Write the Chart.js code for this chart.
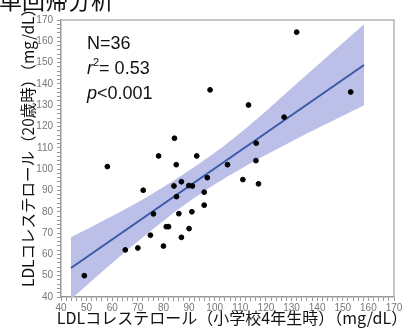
<!DOCTYPE html>
<html>
<head>
<meta charset="utf-8">
<script src="https://cdn.jsdelivr.net/npm/chart.js@4/dist/chart.umd.min.js"></script>
<style>
  body { margin: 0; background: #fff; }
  #wrap { position: relative; width: 407px; height: 336px; overflow: hidden; }
  #head { position: absolute; left: -1px; top: -12px; font: 23px "Noto Sans CJK JP"; color: #111; white-space: nowrap; line-height: 23px; }
</style>
</head>
<body>
<div id="wrap">
  <canvas id="myChart"></canvas>
  <div id="head">単回帰分析</div>
</div>
<script>
// 散布図のデータ（小学校4年生時, 20歳時）
const xValues = [98.2, 84.3, 132.0, 113.2, 153.1, 127.1, 116.2, 78.1, 93.0, 58.1,
                 85.0, 105.0, 97.1, 87.0, 84.1, 89.9, 91.3, 72.1, 95.9, 85.1,
                 95.9, 76.1, 86.0, 91.1, 81.1, 82.0, 90.0, 74.9, 87.0, 65.1,
                 70.0, 80.0, 49.1, 116.1, 111.0, 117.1];
const yValues = [137.2, 114.5, 164.3, 130.1, 136.2, 124.4, 112.2, 106.2, 106.2, 101.2,
                 102.1, 102.1, 96.0, 94.1, 92.1, 92.3, 92.1, 90.1, 89.2, 87.1,
                 83.1, 79.0, 79.1, 80.0, 73.0, 73.0, 72.1, 69.0, 68.0, 62.1,
                 63.0, 63.9, 50.0, 104.0, 95.1, 93.1];

// 回帰直線（両端）
const fitX = [43.9, 158.3];
const fitY = [53.6, 148.9];

// 95%信頼区間
const bandX = [43.9, 60, 75, 92, 110, 130, 158.3];
const bandUpper = [68, 78, 88, 101, 117, 138, 168];
const bandLower = [39, 56, 71, 86.5, 100, 113, 130];

// 統計値と軸タイトル
const statLines = ['N=36', '= 0.53', '<0.001'];
const xTitle = 'LDLコレステロール（小学校4年生時）（mg/dL）';
const yTitle = 'LDLコレステロール（20歳時）（mg/dL）';

const toPoints = (xs, ys) => xs.map((x, i) => ({ x: x, y: ys[i] }));

// プロット枠、軸タイトル、統計値のテキストを描く
const framePlugin = {
    id: 'frame',
    afterDraw(chart) {
        const { ctx, chartArea: a } = chart;
        ctx.save();
        ctx.strokeStyle = '#b5b5b5';
        ctx.lineWidth = 1.5;
        ctx.beginPath();
        ctx.moveTo(a.left, a.top);
        ctx.lineTo(a.right, a.top);
        ctx.lineTo(a.right, a.bottom);
        ctx.stroke();

        ctx.fillStyle = '#111';
        ctx.textBaseline = 'middle';

        // 軸タイトル
        ctx.textAlign = 'center';
        ctx.font = '16px "Noto Sans CJK JP"';
        ctx.fillText(xTitle, 232, 318);
        ctx.save();
        ctx.translate(28, 144);
        ctx.rotate(-Math.PI / 2);
        ctx.font = '15.5px "Noto Sans CJK JP"';
        ctx.fillText(yTitle, 0, 0);
        ctx.restore();

        // 統計値
        ctx.textAlign = 'left';
        const x0 = a.left + 26;
        ctx.font = '18px "Liberation Sans", Arial';
        ctx.fillText(statLines[0], x0, 44);

        ctx.font = 'italic 18px "Liberation Sans", Arial';
        ctx.fillText('r', x0, 69);
        let w = ctx.measureText('r').width;
        ctx.font = '11px "Liberation Sans", Arial';
        ctx.fillText('2', x0 + w, 63);
        w += ctx.measureText('2').width;
        ctx.font = '18px "Liberation Sans", Arial';
        ctx.fillText(statLines[1], x0 + w, 69);

        ctx.font = 'italic 18px "Liberation Sans", Arial';
        ctx.fillText('p', x0, 94);
        w = ctx.measureText('p').width;
        ctx.font = '18px "Liberation Sans", Arial';
        ctx.fillText(statLines[2], x0 + w, 94);
        ctx.restore();
    }
};

const tickFont = { family: '"Liberation Sans", Arial', size: 10 };

const ctx = document.getElementById('myChart').getContext('2d');
new Chart(ctx, {
    type: 'scatter',
    data: {
        datasets: [{
            data: toPoints(xValues, yValues),
            backgroundColor: '#000',
            borderColor: '#000',
            pointRadius: 2.4,
            order: 0
        }, {
            data: toPoints(fitX, fitY),
            showLine: true,
            borderColor: '#3a58a8',
            borderWidth: 2,
            pointRadius: 0,
            order: 1
        }, {
            data: toPoints(bandX, bandUpper),
            showLine: true,
            borderWidth: 0,
            pointRadius: 0,
            tension: 0.4,
            backgroundColor: '#bcbfe8',
            fill: '+1',
            order: 2
        }, {
            data: toPoints(bandX, bandLower),
            showLine: true,
            borderWidth: 0,
            pointRadius: 0,
            tension: 0.4,
            fill: false,
            order: 3
        }]
    },
    options: {
        responsive: true,
        maintainAspectRatio: false,
        animation: false,
        layout: { padding: { top: 20, right: 13, left: 0, bottom: 0 } },
        plugins: {
            legend: { display: false },
            tooltip: { enabled: false }
        },
        scales: {
            x: {
                type: 'linear',
                min: 40,
                max: 170,
                afterFit: (scale) => { scale.height = 39; },
                grid: { drawOnChartArea: false, tickLength: 4, tickColor: '#999' },
                border: { color: '#999', width: 1.5 },
                ticks: {
                    stepSize: 2,
                    autoSkip: false,
                    maxRotation: 0,
                    padding: 1,
                    color: '#777',
                    font: tickFont,
                    callback: (v) => (v % 10 === 0 ? v : '')
                }
            },
            y: {
                min: 40,
                max: 170,
                afterFit: (scale) => { scale.width = 61; },
                grid: { drawOnChartArea: false, tickLength: 4, tickColor: '#999' },
                border: { color: '#999', width: 1.5 },
                ticks: {
                    stepSize: 2,
                    autoSkip: false,
                    padding: 4,
                    color: '#777',
                    font: tickFont,
                    callback: (v) => (v % 10 === 0 ? v : '')
                }
            }
        }
    },
    plugins: [framePlugin]
});
</script>
</body>
</html>
